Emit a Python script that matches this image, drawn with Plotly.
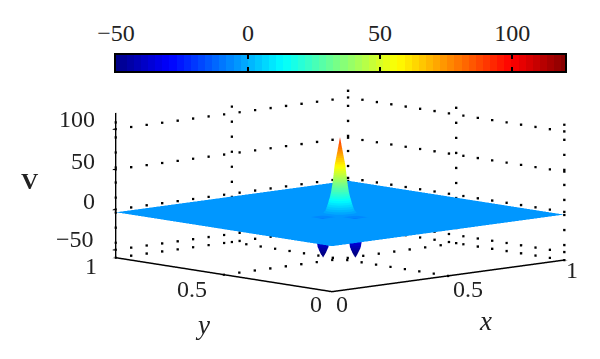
import numpy as np
import plotly.graph_objects as go

# grid is only dense around the peak, the rest of the sheet is flat
x_grid = [0, 0.38, 0.392, 0.404, 0.416, 0.428, 0.44, 0.452, 0.464, 0.476, 0.488,
          0.5, 0.512, 0.524, 0.536, 0.548, 0.56, 1]
y_grid = list(x_grid)

# height above the flat sheet, for the 14 inner grid points
v_core = [
    [0, 0, 0, 0, 0, 0, -5, -16, -24, -16, -5, 0, 0, 0],
    [0, 0, 0, 0, 0, 0, -16, -38, -45, -38, -16, 0, 0, 0],
    [0, 0, 0, 0, 0, 0, -24, -45, -51, -45, -24, 0, 0, 0],
    [0, 0, 0, 0, 0, 0, -16, -38, -45, -38, -16, 0, 0, 0],
    [0, 0, 0, 0, 0, 0, -5, -16, -24, -16, -5, 0, 0, 0],
    [0, 0, 0, 0, 0, 0, 0, 0, 0, 2, 2, 0, 0, 0],
    [-5, -16, -24, -16, -5, 0, 1, 5, 10, 14, 10, 5, 1, 0],
    [-16, -38, -45, -38, -16, 0, 5, 18, 27, 36, 27, 18, 5, 0],
    [-24, -45, -51, -45, -24, 0, 10, 27, 60, 76, 60, 27, 10, 2],
    [-16, -38, -45, -38, -16, 2, 14, 36, 76, 95, 76, 36, 14, 3],
    [-5, -16, -24, -16, -5, 2, 10, 27, 60, 76, 60, 27, 10, 2],
    [0, 0, 0, 0, 0, 0, 5, 18, 27, 36, 27, 18, 5, 0],
    [0, 0, 0, 0, 0, 0, 1, 5, 10, 14, 10, 5, 1, 0],
    [0, 0, 0, 0, 0, 0, 0, 0, 2, 3, 2, 0, 0, 0],
]
sheet_level = -3.5

x_ticks = [0, 0.5, 1]
y_ticks = [0, 0.5, 1]
v_ticks = [-50, 0, 50, 100]
bar_ticks = [-50, 0, 50, 100]
v_min, v_max = -60, 120
c_min, c_max = -50, 120

FONT = "Liberation Serif"
TEXT = "#222222"


# matlab jet with 64 steps
def jet_scale(n=64):
    stops = []
    for k in range(n):
        t = (k + 0.5) / n
        r = np.clip(min(4 * t - 1.5, -4 * t + 4.5), 0, 1)
        g = np.clip(min(4 * t - 0.5, -4 * t + 3.5), 0, 1)
        b = np.clip(min(4 * t + 0.5, -4 * t + 2.5), 0, 1)
        col = "rgb(%d,%d,%d)" % (r * 255, g * 255, b * 255)
        stops.append([k / n, col])
        stops.append([(k + 1) / n, col])
    return stops


# dotted grid on the two back walls and the floor
def grid_dots():
    along = np.linspace(0, 1, 16)
    up = np.arange(v_min, v_max + 1, 18.7)
    xs, ys, zs = [], [], []
    for v in v_ticks:
        xs += [1] * 16 + list(along)
        ys += list(along) + [1] * 16
        zs += [v] * 32
    for t in y_ticks:
        xs += [1] * len(up)
        ys += [t] * len(up)
        zs += list(up)
    for t in x_ticks:
        xs += [t] * len(up)
        ys += [1] * len(up)
        zs += list(up)
    for t in [0.5, 1]:
        xs += [t] * 16 + list(along)
        ys += list(along) + [t] * 16
        zs += [v_min] * 32
    return xs, ys, zs


# plain text label centred on a pixel position of the picture
def label(text, px, py, size=24):
    return dict(text=text, x=px / 600, y=1 - py / 359, xref="paper", yref="paper",
                xanchor="center", yanchor="middle", showarrow=False,
                font=dict(family=FONT, size=size, color=TEXT))


v_grid = np.pad(np.array(v_core, dtype=float), 2) + sheet_level

fig = go.Figure()
fig.add_trace(go.Surface(
    x=x_grid, y=y_grid, z=v_grid, coloraxis="coloraxis",
    lighting=dict(ambient=1, diffuse=0, specular=0, roughness=1, fresnel=0),
    hoverinfo="skip",
))
dx, dy, dz = grid_dots()
fig.add_trace(go.Scatter3d(
    x=dx, y=dy, z=dz, mode="markers",
    marker=dict(size=1.2, color="black", symbol="square"),
    hoverinfo="skip", showlegend=False,
))

# colour bar drawn as a heatmap, so the labels can sit on top
bar_levels = np.linspace(c_min, c_max, 64)
fig.add_trace(go.Heatmap(
    x=bar_levels, y=[0, 1], z=[bar_levels, bar_levels], coloraxis="coloraxis",
    xaxis="x", yaxis="y", hoverinfo="skip",
))

# view direction worked out from the corners of the box in the picture
az = np.radians(47.05)
el = np.radians(8.4)
R = 5
zoom = 1.84
axis_style = dict(
    showgrid=False, zeroline=False, showbackground=False, showspikes=False,
    showline=True, linecolor="black", linewidth=3, ticks="outside",
    tickcolor="black", ticklen=4, tickwidth=2, title=dict(text=""),
    showticklabels=False,
)

fig.update_layout(
    width=600, height=359,
    margin=dict(l=0, r=0, t=0, b=0, autoexpand=False),
    paper_bgcolor="white",
    plot_bgcolor="white",
    showlegend=False,
    coloraxis=dict(colorscale=jet_scale(), cmin=c_min, cmax=c_max, showscale=False),
    xaxis=dict(
        domain=[116 / 600, 565 / 600], range=[c_min, c_max], side="top", anchor="y",
        tickvals=bar_ticks, ticks="inside", ticklen=4, tickwidth=1.5, tickcolor="black",
        showline=True, linecolor="black", linewidth=1.5, mirror="ticks", showgrid=False,
        zeroline=False, automargin=False, ticklabelstandoff=3,
        tickfont=dict(family=FONT, size=24, color=TEXT),
    ),
    yaxis=dict(
        domain=[1 - 71 / 359, 1 - 55 / 359], range=[0, 1], anchor="x",
        showticklabels=False, ticks="", showline=True, linecolor="black", linewidth=1.5,
        mirror=True, showgrid=False, zeroline=False, automargin=False,
    ),
    scene=dict(
        domain=dict(x=[80 / 600, 1], y=[0, 345 / 359]),
        xaxis=dict(range=[0, 1], tickvals=x_ticks, **axis_style),
        yaxis=dict(range=[0, 1], tickvals=y_ticks, **axis_style),
        zaxis=dict(range=[v_min, v_max], tickvals=v_ticks, **axis_style),
        aspectmode="manual",
        aspectratio=dict(x=zoom, y=zoom, z=0.461 * zoom),
        camera=dict(
            projection=dict(type="orthographic"),
            up=dict(x=0, y=0, z=1),
            eye=dict(x=-R * np.cos(el) * np.cos(az), y=-R * np.cos(el) * np.sin(az), z=R * np.sin(el)),
        ),
    ),
    annotations=[
        label("<b>V</b>", 30, 181),
        label("<i>y</i>", 202, 325, 27),
        label("<i>x</i>", 485, 321, 27),
        label("100", 76.5, 119),
        label("50", 82.5, 161),
        label("0", 89, 201),
        label("\u221250", 75, 239),
        label("1", 91, 266),
        label("0.5", 192, 289),
        label("0", 316, 304),
        label("0", 342, 304),
        label("0.5", 468, 289),
        label("1", 572, 270),
    ],
)

# the page body has a default margin that would shift everything by 8px
fig.write_html("out.html", config=dict(displayModeBar=False),
               post_script="document.body.style.margin='0';")
